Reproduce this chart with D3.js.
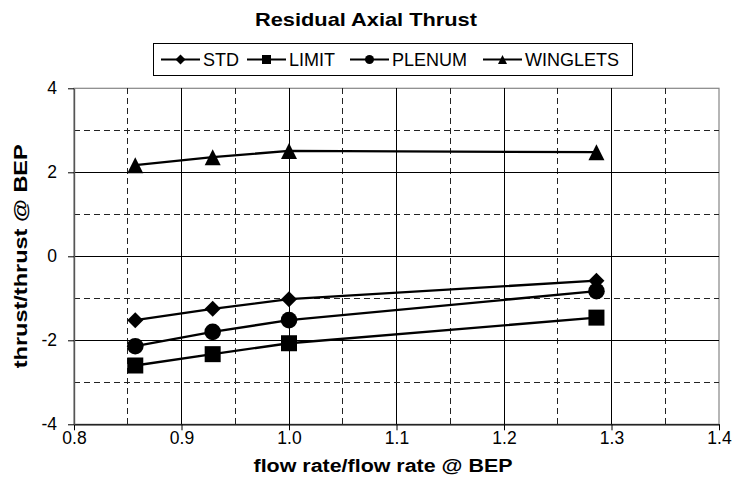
<!DOCTYPE html>
<html>
<head>
<meta charset="utf-8">
<script src="https://cdn.jsdelivr.net/npm/d3@7"></script>
<style>
  html, body { margin: 0; padding: 0; background: #fff; }
  svg { display: block; font-family: "Liberation Sans", Arial, sans-serif; }
</style>
</head>
<body>
<svg id="chart" width="732" height="487"></svg>
<script>
// Flow rate relative to best efficiency point
const flowRates = [0.857, 0.929, 1.0, 1.286];

// Residual axial thrust relative to thrust at BEP, one array per design
const stdThrust      = [-1.52, -1.25, -1.02, -0.58];
const limitThrust    = [-2.60, -2.33, -2.07, -1.46];
const plenumThrust   = [-2.14, -1.80, -1.52, -0.83];
const wingletsThrust = [2.17, 2.36, 2.51, 2.48];

const seriesNames = ["STD", "LIMIT", "PLENUM", "WINGLETS"];
const seriesSymbols = ["diamond", "square", "circle", "triangle"];

const xTicks = [0.8, 0.9, 1.0, 1.1, 1.2, 1.3, 1.4];
const xMinor = [0.85, 0.95, 1.05, 1.15, 1.25, 1.35];
const yTicks = [-4, -2, 0, 2, 4];
const yMinor = [-3, -1, 1, 3];

const series = [stdThrust, limitThrust, plenumThrust, wingletsThrust].map((vals, i) => ({
  name: seriesNames[i],
  symbol: seriesSymbols[i],
  points: vals.map((v, j) => ({ x: flowRates[j], y: v }))
}));

const svg = d3.select("#chart");
const plotLeft = 74, plotRight = 719, plotTop = 88.3, plotBottom = 424.3;

const x = d3.scaleLinear().domain([0.8, 1.4]).range([plotLeft, plotRight]);
const y = d3.scaleLinear().domain([-4, 4]).range([plotBottom, plotTop]);

// Marker shapes
function marker(sel, type, s) {
  if (type === "diamond") {
    sel.append("path").attr("d", `M0,${-s}L${s},0L0,${s}L${-s},0Z`);
  } else if (type === "square") {
    sel.append("rect").attr("x", -s).attr("y", -s).attr("width", 2 * s).attr("height", 2 * s);
  } else if (type === "circle") {
    sel.append("circle").attr("r", s);
  } else {
    sel.append("path").attr("d", `M0,${-s}L${s},${s}L${-s},${s}Z`);
  }
}

// Plot area frame
svg.append("rect")
  .attr("x", plotLeft).attr("y", plotTop)
  .attr("width", plotRight - plotLeft).attr("height", plotBottom - plotTop)
  .attr("fill", "#fff").attr("stroke", "#868686").attr("stroke-width", 1.2);

// Gridlines
const grid = svg.append("g").attr("shape-rendering", "crispEdges");
grid.selectAll(".vmaj").data(xTicks.slice(1, -1)).join("line")
  .attr("x1", d => x(d)).attr("x2", d => x(d)).attr("y1", plotTop).attr("y2", plotBottom)
  .attr("stroke", "#000").attr("stroke-width", 1);
grid.selectAll(".vmin").data(xMinor).join("line")
  .attr("x1", d => x(d)).attr("x2", d => x(d)).attr("y1", plotTop).attr("y2", plotBottom)
  .attr("stroke", "#222").attr("stroke-width", 1).attr("stroke-dasharray", "6,4");
grid.selectAll(".hmaj").data(yTicks.slice(1, -1)).join("line")
  .attr("x1", plotLeft).attr("x2", plotRight).attr("y1", d => y(d)).attr("y2", d => y(d))
  .attr("stroke", "#000").attr("stroke-width", 1);
grid.selectAll(".hmin").data(yMinor).join("line")
  .attr("x1", plotLeft).attr("x2", plotRight).attr("y1", d => y(d)).attr("y2", d => y(d))
  .attr("stroke", "#222").attr("stroke-width", 1).attr("stroke-dasharray", "6,4");

// Axes
const xAxis = svg.append("g")
  .attr("transform", `translate(0,${plotBottom})`)
  .call(d3.axisBottom(x).tickValues(xTicks).tickFormat(d3.format(".1f"))
    .tickSize(6).tickSizeOuter(0).tickPadding(1.5));
const yAxis = svg.append("g")
  .attr("transform", `translate(${plotLeft},0)`)
  .call(d3.axisLeft(y).tickValues(yTicks).tickFormat(d => d < 0 ? "-" + Math.abs(d) : d)
    .tickSize(6).tickSizeOuter(0).tickPadding(11));
[xAxis, yAxis].forEach(a => {
  a.selectAll("text").attr("font-size", 17.5).attr("fill", "#000")
    .attr("font-family", "Liberation Sans, Arial, sans-serif");
  a.selectAll("line").attr("stroke", "#000");
});
xAxis.select(".domain").attr("stroke", "#000").attr("stroke-width", 1.2);
yAxis.select(".domain").attr("stroke", "#555").attr("stroke-width", 1.4);

// Series lines and markers
const line = d3.line().x(d => x(d.x)).y(d => y(d.y)).curve(d3.curveLinear);
series.forEach(s => {
  svg.append("path").datum(s.points)
    .attr("d", line).attr("fill", "none").attr("stroke", "#000")
    .attr("stroke-width", 2.3).attr("stroke-linejoin", "round");
  svg.append("g").selectAll("g").data(s.points).join("g")
    .attr("transform", d => `translate(${x(d.x)},${y(d.y)})`)
    .each(function () { marker(d3.select(this), s.symbol, s.symbol === "circle" ? 8.3 : 8); })
    .selectAll("*").attr("fill", "#000");
});

// Title
svg.append("text")
  .attr("x", 366).attr("y", 26)
  .attr("text-anchor", "middle")
  .attr("font-size", 18.5).attr("font-weight", "bold")
  .attr("textLength", 222).attr("lengthAdjust", "spacingAndGlyphs")
  .text("Residual Axial Thrust");

// Axis titles
svg.append("text")
  .attr("x", 383).attr("y", 472)
  .attr("text-anchor", "middle")
  .attr("font-size", 18).attr("font-weight", "bold")
  .attr("textLength", 259).attr("lengthAdjust", "spacingAndGlyphs")
  .text("flow rate/flow rate @ BEP");
svg.append("text")
  .attr("transform", `translate(27,${(plotTop + plotBottom) / 2}) rotate(-90)`)
  .attr("text-anchor", "middle")
  .attr("font-size", 19).attr("font-weight", "bold")
  .attr("textLength", 224).attr("lengthAdjust", "spacingAndGlyphs")
  .text("thrust/thrust @ BEP");

// Legend
const legend = svg.append("g");
legend.append("rect")
  .attr("x", 153.5).attr("y", 43.5).attr("width", 479).attr("height", 32)
  .attr("fill", "#fff").attr("stroke", "#000").attr("stroke-width", 1);
const legendX = [161, 247, 350, 483];
const legendY = 59.5;
series.forEach((s, i) => {
  const g = legend.append("g").attr("transform", `translate(${legendX[i]},${legendY})`);
  g.append("line").attr("x1", 0).attr("x2", 39).attr("y1", 0).attr("y2", 0)
    .attr("stroke", "#000").attr("stroke-width", 2);
  const m = g.append("g").attr("transform", "translate(19.5,0)");
  marker(m, s.symbol, s.symbol === "diamond" ? 5 : 4.5);
  m.selectAll("*").attr("fill", "#000");
  g.append("text").attr("x", 42).attr("y", 6.5)
    .attr("font-size", 18).attr("fill", "#000").text(s.name);
});
</script>
</body>
</html>
